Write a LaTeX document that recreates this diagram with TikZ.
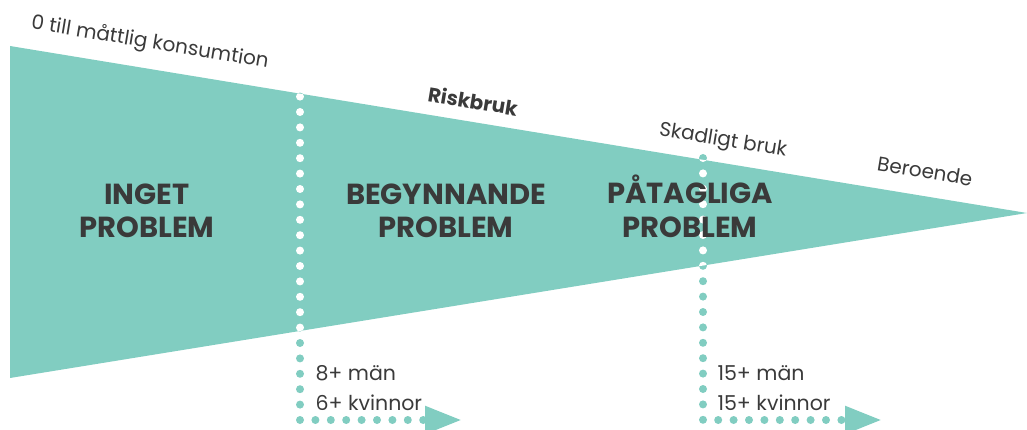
\documentclass[tikz,border=0pt]{standalone}
\usepackage{fontspec}
\setmainfont{Poppins}
\usetikzlibrary{arrows.meta}
\definecolor{mint}{RGB}{129,205,193}
\definecolor{ink}{RGB}{58,58,58}

\begin{document}
\begin{tikzpicture}[x=1pt, y=-1pt, text=ink,
    lbl/.style={font=\fontsize{20}{24}\selectfont, rotate=-9.4},
    zone/.style={font=\fontsize{29}{33}\selectfont\bfseries, align=center, anchor=base},
    lim/.style={font=\fontsize{20.5}{30}\selectfont, align=left, anchor=base west},
    dots/.style={line width=8pt, line cap=round, dash pattern=on 0pt off 15.4pt},
    tip/.style={-{Triangle[length=37pt, width=26pt]}}]
  \clip (0,0) rectangle (1027,430);

  % the funnel
  \coordinate (tl) at (10,46);
  \coordinate (tip) at (1027,213);
  \coordinate (bl) at (10,378);
  \fill[mint] (tl) -- (tip) -- (bl) -- cycle;

  % limits
  \coordinate (risk top) at (300,96.6);
  \coordinate (risk turn) at (300,420);
  \coordinate (risk end) at (462,420);
  \coordinate (harm top) at (703,158);
  \coordinate (harm turn) at (703,420);
  \coordinate (harm end) at (882,420);
  \draw[dots, mint, tip] (risk top) -- (risk turn) -- (risk end);
  \draw[dots, mint, tip] (harm top) -- (harm turn) -- (harm end);
  \begin{scope}
    \clip (tl) -- (tip) -- (bl) -- cycle;
    \draw[dots, white] (risk top) -- (risk turn);
    \draw[dots, white] (harm top) -- (harm turn);
  \end{scope}

  % labels along the top edge
  \node[lbl] (cons) at (150,43) {0 till måttlig konsumtion};
  \node[lbl, font=\fontsize{20}{24}\selectfont\bfseries] (risk) at (473,101) {Riskbruk};
  \node[lbl] (harm) at (723,141) {Skadligt bruk};
  \node[lbl] (dep) at (925,171) {Beroende};

  % zones
  \node[zone] (none) at (147,238) {INGET\\PROBLEM};
  \node[zone] (begin) at (446,238) {BEGYNNANDE\\PROBLEM};
  \node[zone] (clear) at (690,237) {PÅTAGLIGA\\PROBLEM};

  % drinks per week
  \node[lim] (risk lim) at (312,410) {8+ män\\6+ kvinnor};
  \node[lim] (harm lim) at (714,410) {15+ män\\15+ kvinnor};
\end{tikzpicture}
\end{document}
